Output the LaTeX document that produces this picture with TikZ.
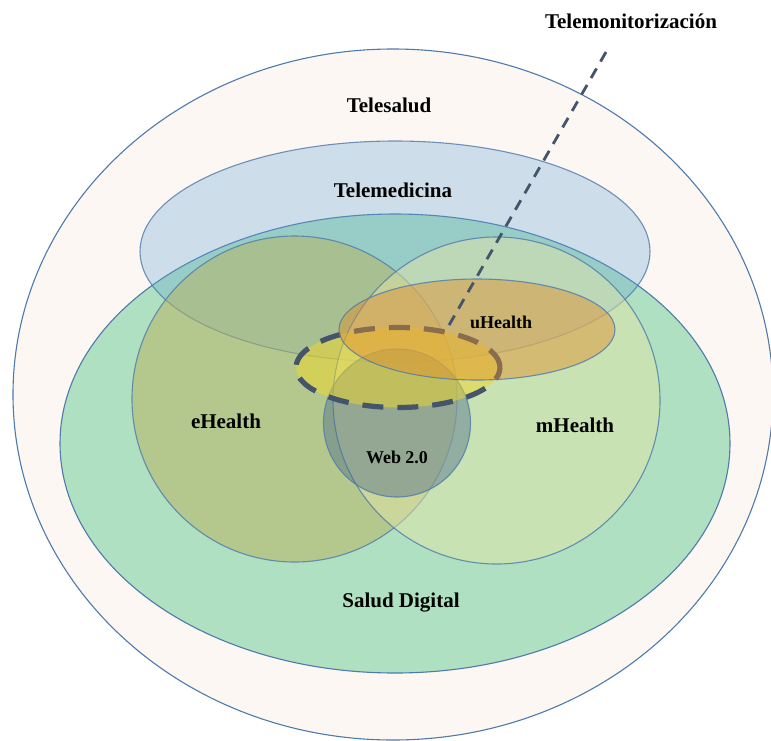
\documentclass[tikz,border=0pt]{standalone}
\usepackage{fontspec}
\setmainfont{Liberation Serif}
\usetikzlibrary{shapes.geometric}
\definecolor{edgeblue}{RGB}{78,122,172}
\definecolor{shellfill}{RGB}{253,247,244}
\definecolor{digitalfill}{RGB}{175,224,194}
\definecolor{medfill}{RGB}{100,164,211}
\definecolor{efill}{RGB}{185,178,92}
\definecolor{mfill}{RGB}{227,228,166}
\definecolor{webfill}{RGB}{80,110,140}
\definecolor{monfill}{RGB}{240,215,40}
\definecolor{ufill}{RGB}{225,140,40}
\definecolor{slate}{RGB}{68,84,106}
\tikzset{
  area/.style={ellipse, inner sep=0pt, outer sep=0pt, draw=edgeblue, line width=1.1pt},
  lbl/.style={font=\bfseries\fontsize{21}{24}\selectfont, inner sep=0pt},
  smalllbl/.style={font=\bfseries\fontsize{18}{21}\selectfont, inner sep=0pt},
}
\begin{document}
\begin{tikzpicture}[x=1pt, y=-1pt]
  \useasboundingbox (0,0) rectangle (771,740);
  \fill[white] (0,0) rectangle (771,740);

  % nested domains
  \node[area, fill=shellfill, minimum width=760, minimum height=691] (telesalud) at (393,394.5) {};
  \node[area, fill=digitalfill, minimum width=670, minimum height=459] (digital) at (395,443.5) {};
  \node[area, fill=medfill, fill opacity=0.3, draw opacity=0.8, minimum width=510, minimum height=221] (telemed) at (395,251.5) {};
  \node[area, fill=efill, fill opacity=0.5, draw opacity=0.8, minimum width=325, minimum height=326] (ehealth) at (294.5,399) {};
  \node[area, fill=mfill, fill opacity=0.5, draw opacity=0.8, minimum width=327, minimum height=327] (mhealth) at (496.5,400.5) {};
  \node[area, fill=webfill, fill opacity=0.45, draw opacity=0.8, minimum width=147, minimum height=148] (web) at (397,423) {};
  \node[ellipse, inner sep=0pt, outer sep=0pt, fill=monfill, fill opacity=0.5, draw=slate, line width=5.2pt,
        dash pattern=on 21pt off 14pt, minimum width=204, minimum height=80] (monitor) at (398,367.5) {};
  \node[area, fill=ufill, fill opacity=0.45, draw opacity=0.8, minimum width=276, minimum height=101] (uhealth) at (477,329.5) {};

  % labels
  \node[lbl] (ltelesalud) at (389,105) {Telesalud};
  \node[lbl] (ltelemed) at (393,190) {Telemedicina};
  \node[lbl] (lehealth) at (226,421) {eHealth};
  \node[lbl] (lmhealth) at (575,425) {mHealth};
  \node[lbl] (ldigital) at (401,603) {Salud Digital};
  \node[smalllbl] (luhealth) at (501,322) {uHealth};
  \node[smalllbl] (lweb) at (397,457) {Web 2.0};
  \node[lbl] (lmonitor) at (631,21) {Telemonitorización};

  % pointer to the telemonitoring zone
  \coordinate (montip) at (606,52);
  \draw[slate, line width=2.8pt, dash pattern=on 11pt off 8pt] (montip) -- (monitor.37);
\end{tikzpicture}
\end{document}
